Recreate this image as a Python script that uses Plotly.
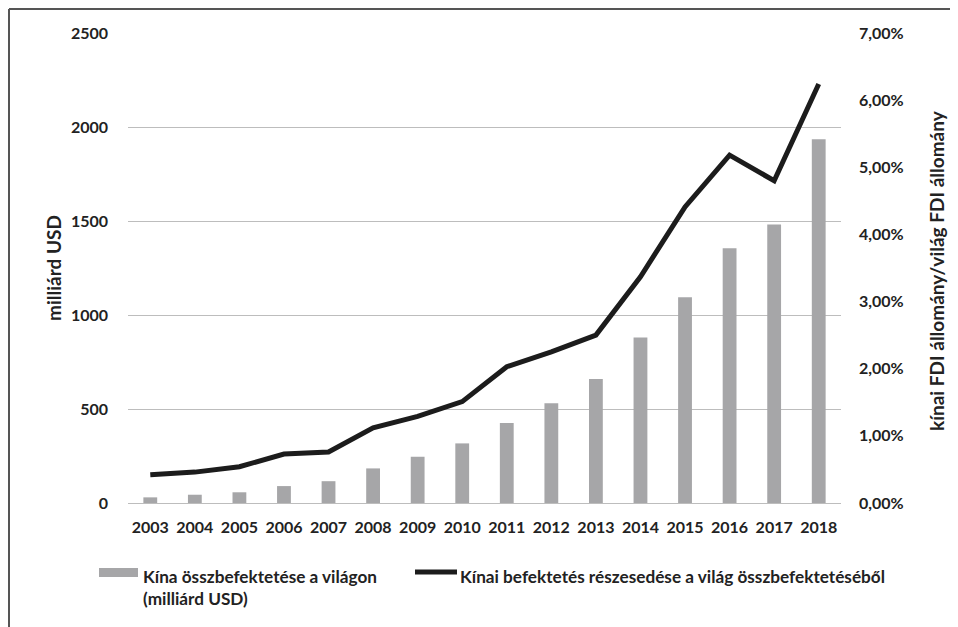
import plotly.graph_objects as go

years = ["2003", "2004", "2005", "2006", "2007", "2008", "2009", "2010",
         "2011", "2012", "2013", "2014", "2015", "2016", "2017", "2018"]
invest_bn_usd = [30, 44, 57, 90, 116, 184, 246, 317,
                 425, 530, 660, 880, 1095, 1355, 1482, 1935]
share_pct = [0.42, 0.46, 0.54, 0.73, 0.76, 1.12, 1.29, 1.51,
             2.03, 2.25, 2.50, 3.37, 4.41, 5.18, 4.80, 6.24]
left_ticks = [0, 500, 1000, 1500, 2000, 2500]
right_ticks = [0, 1, 2, 3, 4, 5, 6, 7]
right_tick_text = ["0,00%", "1,00%", "2,00%", "3,00%", "4,00%", "5,00%", "6,00%", "7,00%"]

bar_name = "Kína összbefektetése a világon<br>(milliárd USD)"
line_name = "Kínai befektetés részesedése a világ összbefektetéséből"

FONT = "Lato"
TXT = "#222222"
OFF = 8  # page body margin
W, H = 958 - OFF, 627 - OFF
# plot area in screen coords: x 128..841, y 33..503
L = 128 - OFF
T = 33 - OFF
R = W - (841 - OFF)
B = H - (503 - OFF)
pw, ph = W - L - R, H - T - B


def px(xs):
    return (xs - OFF - L) / pw


def py(ys):
    return (H - B - (ys - OFF)) / ph


tick_font = dict(family=FONT, size=16, color=TXT, weight="bold")
title_font = dict(family=FONT, size=19, color=TXT, weight="bold")
leg_font = dict(family=FONT, size=17.2, color=TXT, weight="bold")

fig = go.Figure()
fig.add_trace(go.Bar(x=years, y=invest_bn_usd, name=bar_name,
                     marker=dict(color="#a6a6a8", line=dict(width=0)),
                     width=0.31, yaxis="y"))
fig.add_trace(go.Scatter(x=years, y=share_pct, name=line_name, mode="lines",
                         line=dict(color="#1c1c1c", width=5), yaxis="y2"))

fig.update_layout(
    width=W, height=H,
    margin=dict(l=L, r=R, t=T, b=B),
    paper_bgcolor="white", plot_bgcolor="white",
    showlegend=False,
    font=tick_font,
    xaxis=dict(type="category", showgrid=False, showline=False, ticks="",
               ticklabelstandoff=13, tickfont=tick_font),
    yaxis=dict(range=[0, 2500], tickvals=left_ticks, showgrid=True,
               gridcolor="#bdbdbd", gridwidth=1, zeroline=True,
               zerolinecolor="#bdbdbd", zerolinewidth=1, showline=False,
               ticks="", ticklabelstandoff=19, tickfont=tick_font),
    yaxis2=dict(range=[0, 7], tickvals=right_ticks, ticktext=right_tick_text,
                overlaying="y", side="right", showgrid=False, zeroline=False,
                showline=False, ticks="", ticklabelstandoff=17,
                tickfont=tick_font),
)

# frame (top and left edges)
fig.add_shape(type="line", xref="paper", yref="paper",
              x0=px(9), x1=px(958), y0=py(9), y1=py(9),
              line=dict(color="#555555", width=2))
fig.add_shape(type="line", xref="paper", yref="paper",
              x0=px(9), x1=px(9), y0=py(9), y1=py(627),
              line=dict(color="#555555", width=2))

# axis titles
fig.add_annotation(text="milliárd USD", xref="paper", yref="paper",
                   x=px(53), y=py(268), textangle=-90, showarrow=False,
                   font=title_font, xanchor="center", yanchor="middle")
fig.add_annotation(text="kínai FDI állomány/világ FDI állomány", xref="paper", yref="paper",
                   x=px(936), y=py(271), textangle=-90, showarrow=False,
                   font=title_font, xanchor="center", yanchor="middle")

# legend (drawn manually)
fig.add_shape(type="rect", xref="paper", yref="paper",
              x0=px(99), x1=px(138), y0=py(577), y1=py(568),
              fillcolor="#a6a6a8", line=dict(width=0))
fig.add_annotation(text=bar_name, xref="paper", yref="paper",
                   x=px(141), y=py(564), xanchor="left", yanchor="top",
                   align="left", showarrow=False, font=leg_font)
fig.add_shape(type="line", xref="paper", yref="paper",
              x0=px(415), x1=px(457), y0=py(572), y1=py(572),
              line=dict(color="#1c1c1c", width=5))
fig.add_annotation(text=line_name, xref="paper", yref="paper",
                   x=px(458), y=py(564), xanchor="left", yanchor="top",
                   align="left", showarrow=False, font=leg_font)

fig.write_html("out.html")
